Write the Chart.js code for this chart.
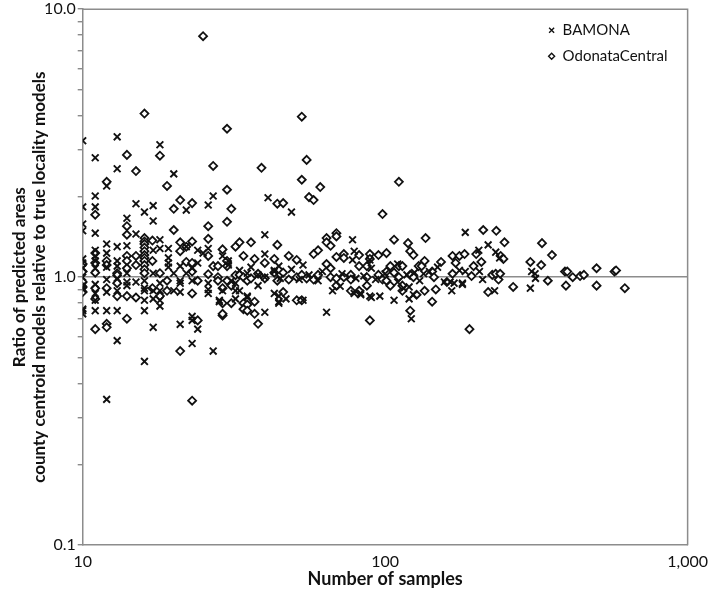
<!DOCTYPE html>
<html><head><meta charset="utf-8">
<script src="https://cdn.jsdelivr.net/npm/chart.js@4/dist/chart.umd.min.js"></script>
<style>html,body{margin:0;padding:0;background:#fff}</style>
</head><body>
<canvas id="c" width="709" height="598"></canvas>
<script>
// ---- data: [number of samples, [ratios...]] ----
const bamonaGroups = [
 [10,[3.23,1.83,1.58,1.49,1.17,1.13,1.08,1.0,0.93,0.91,0.9,0.76,0.75,0.73]],
 [11,[2.79,2.01,1.83,1.46,1.26,1.20,1.15,1.08,0.94,0.87,0.82,0.75]],
 [12,[2.19,1.33,1.23,1.09,0.98,0.88,0.75,0.35]],
 [13,[3.34,2.54,1.30,1.15,1.10,0.99,0.89,0.75,0.58]],
 [14,[1.66,1.31,1.035,0.96,0.93]],
 [15,[1.88,1.45,0.96]],
 [16,[1.75,0.97,0.91,0.89,0.82,0.75,0.485]],
 [17.1,[1.85,1.62,1.26,1.035,0.89,0.83,0.65]],
 [18,[3.12,1.38,1.28,0.95,0.89,0.82,0.78]],
 [19.2,[1.28,1.18,1.13,1.09]],
 [20,[2.43,1.035,0.89]],
 [21,[1.10,0.97,0.95,0.88,0.667]],
 [22,[1.78,1.30,1.035]],
 [23,[1.08,0.97,0.714,0.69,0.566]],
 [24,[1.26,1.13,0.64]],
 [25,[1.23]],
 [26,[1.86,1.28,0.95,0.90,0.87]],
 [27,[2.01,0.53]],
 [28.3,[0.82,0.81]],
 [29,[1.20,0.89]],
 [30.3,[1.15,1.11]],
 [31,[0.97]],
 [32,[0.89,0.83,0.95]],
 [33,[1.06,0.89]],
 [35,[0.84,0.85,1.035]],
 [36,[1.09]],
 [38,[0.93,1.02]],
 [40,[1.44,1.22,1.0,0.74]],
 [41,[1.98]],
 [43,[1.05,1.06,0.87]],
 [44.5,[1.10,0.85,0.81,0.80]],
 [45,[0.99]],
 [47,[0.83]],
 [49,[1.75,1.07]],
 [52,[0.98]],
 [53.5,[0.82,1.11]],
 [56,[1.02]],
 [60,[0.97]],
 [62,[1.05]],
 [64,[0.74]],
 [67,[0.89]],
 [71,[0.925]],
 [72,[1.03]],
 [78,[1.38,1.16]],
 [79,[1.25,0.87]],
 [80,[0.99]],
 [83,[0.87,0.86]],
 [85,[1.01]],
 [89,[1.16,0.85]],
 [90,[0.84,1.08]],
 [93,[0.98]],
 [96,[0.85]],
 [100,[1.03]],
 [107,[0.82]],
 [110,[0.96,1.12]],
 [115,[0.91]],
 [118,[1.02]],
 [120,[0.92,0.83]],
 [122,[0.70]],
 [124,[0.86]],
 [125,[1.04]],
 [130,[0.97]],
 [134,[1.03]],
 [140,[1.05]],[149,[1.09]],[157,[0.96]],[164,[0.96]],[166,[0.89]],[169,[0.95]],
 [176,[1.06]],[180,[0.95,0.94]],[184,[1.47,1.05]],[204,[1.26]],[205,[1.05]],
 [210,[0.98]],[219,[1.32]],[230,[0.89]],[232,[1.24]],[239,[1.18]],
 [302,[0.91]],[305,[1.05]],[313,[1.03]],[314,[0.99]]
];
const odonataGroups = [
 [10,[1.12,1.05,0.96,0.92,0.88]],
 [11,[1.71,1.23,1.13,1.04,0.91,0.83,0.64]],
 [12,[2.27,1.15,1.11,0.91,0.67,0.65]],
 [13,[1.035,1.017,0.95,0.85]],
 [14,[2.86,1.55,1.44,1.20,1.15,1.08,0.85,0.70]],
 [15,[2.49,1.20,1.11,0.84]],
 [16,[4.08,1.40,1.36,1.33,1.29,1.25,1.21,1.18,1.15,1.11,1.07,1.035]],
 [17,[1.37,1.15,0.91]],
 [18,[2.84,1.035,0.85]],
 [19,[2.19,0.97,0.89]],
 [20,[1.80,1.50]],
 [21,[1.94,1.35,1.25,0.53]],
 [22,[1.30,1.14]],
 [23,[1.89,1.36,1.13,1.05,0.87,0.346]],
 [24,[0.97,0.69]],
 [25,[7.93]],
 [26,[1.55,1.39,1.20,1.026]],
 [27,[2.60,1.10]],
 [28,[1.10,1.0,0.97]],
 [29,[1.27,0.91,0.80,0.72,0.73]],
 [30,[3.58,2.12,1.61,1.10,1.15,0.97]],
 [31,[1.80,0.93,0.80]],
 [32,[1.30,1.017]],
 [33,[1.35,1.02]],
 [34,[1.20,1.0,0.80,0.76]],
 [35,[0.79,0.75,0.97]],
 [36,[1.35,0.99]],
 [37,[1.17,0.81,0.73]],
 [38,[0.67,1.03]],
 [39,[2.56]],
 [40,[1.13,0.99]],
 [43,[1.17,1.04]],
 [44,[1.88,1.32,0.97]],
 [46,[1.89,1.04,0.88]],
 [48,[1.20,0.98]],
 [51,[1.16,0.82,1.0]],
 [53,[3.97,2.31,0.82,1.02]],
 [55,[2.74,0.99]],
 [56,[1.99]],
 [58,[1.94,1.22,0.98]],
 [60,[1.26,1.02]],
 [61,[2.17]],
 [64,[1.40,1.35,1.12]],
 [66,[1.31,1.08,1.0]],
 [69,[1.46,1.42,1.19,0.93,0.99]],
 [73,[1.22,1.18,1.0]],
 [77,[0.89,1.02,0.98]],
 [82,[1.21,1.10,0.89]],
 [87,[1.10,1.0,0.93]],
 [89,[1.22,1.17,0.69]],
 [95,[1.21,1.02]],
 [98,[1.72,0.98]],
 [101,[1.23,0.97,1.05]],
 [104,[1.10,0.93]],
 [107,[1.38,1.04]],
 [111,[2.27,1.10,1.0]],
 [114,[1.10,0.89,0.93]],
 [119,[1.34]],
 [121,[1.25,1.02,0.75]],
 [124,[1.21,1.0]],
 [127,[0.86]],[129,[1.10]],[132,[1.10]],[135,[1.15,0.89]],[136,[1.40]],
 [143,[1.05,0.81]],[145,[1.0]],[147,[0.90]],[153,[1.14]],[160,[0.96]],
 [167,[1.20,1.03]],[171,[1.13]],[176,[1.20]],[183,[1.22]],[190,[0.64]],
 [193,[1.01]],[196,[1.10]],[200,[1.22]],[208,[1.14]],[211,[1.50]],[219,[0.88]],
 [226,[1.02]],[232,[1.03]],[233,[1.49]],[237,[0.98]],[240,[1.03]],[241,[1.20]],
 [246,[1.17]],[248,[1.35]],[265,[0.92]],[302,[1.14]],[328,[1.11]],[330,[1.34]],
 [345,[0.97]],[356,[1.21]],[393,[1.05]],[396,[0.93]],[400,[1.05]],[417,[1.0]],
 [441,[1.01]],[454,[1.02]],[500,[1.08,0.93]],[573,[1.05]],[580,[1.06]],[620,[0.91]]
];
const seriesNames = ['BAMONA','OdonataCentral'];
const xTickValues = [10,100,1000];
const xTickLabels = ['10','100','1,000'];
const yMajorValues = [0.1,1,10];
const yMajorLabels = ['0.1','1.0','10.0'];
const xTitle = 'Number of samples';
const yTitle = ['Ratio of predicted areas','county centroid models relative to true locality models'];

const flatten = g => g.flatMap(([n, rs]) => rs.map(r => ({x:n, y:r})));

const yTickValues = [];
for (let d = 0.1; d < 10; d *= 10) for (let k = 1; k <= 9; k++) yTickValues.push(+(k*d).toFixed(2));
yTickValues.push(10);

const FONT = 'Lato, "Open Sans", sans-serif';
const GRAY = '#8c8c8c';

const frameLegend = {
  id:'frameLegend',
  afterDraw(chart){
    const {ctx, chartArea:a} = chart;
    ctx.save();
    ctx.strokeStyle = GRAY; ctx.lineWidth = 1.5;
    ctx.beginPath(); ctx.moveTo(a.left, a.top); ctx.lineTo(a.right, a.top); ctx.lineTo(a.right, a.bottom); ctx.stroke();
    // legend
    const mx = a.right - 136, tx = a.right - 125;
    const y1 = a.top + 21, y2 = a.top + 47;
    ctx.strokeStyle = '#111'; ctx.lineWidth = 1.4;
    ctx.beginPath(); ctx.moveTo(mx-2.5,y1-2.5); ctx.lineTo(mx+2.5,y1+2.5); ctx.moveTo(mx+2.5,y1-2.5); ctx.lineTo(mx-2.5,y1+2.5); ctx.stroke();
    ctx.beginPath(); ctx.moveTo(mx,y2-3); ctx.lineTo(mx+3,y2); ctx.lineTo(mx,y2+3); ctx.lineTo(mx-3,y2); ctx.closePath();
    ctx.fillStyle='#fff'; ctx.fill(); ctx.stroke();
    ctx.fillStyle = '#111'; ctx.font = '15px ' + FONT; ctx.textBaseline = 'middle'; ctx.textAlign = 'left';
    ctx.fillText(seriesNames[0], tx, y1);
    ctx.fillText(seriesNames[1], tx, y2);
    ctx.restore();
  }
};

new Chart(document.getElementById('c'), {
  type:'scatter',
  data:{ datasets:[
    { label:seriesNames[0], data:flatten(bamonaGroups), pointStyle:'crossRot', radius:4.8, borderColor:'#111', borderWidth:1.9, backgroundColor:'#111' },
    { label:seriesNames[1], data:flatten(odonataGroups), pointStyle:'rectRot', radius:4, borderColor:'#111', borderWidth:1.8, backgroundColor:'#fff' }
  ]},
  options:{
    responsive:false, animation:false,
    layout:{ padding:{ left:10, right:15, top:0, bottom:8 } },
    plugins:{ legend:{display:false}, tooltip:{enabled:false} },
    scales:{
      x:{ type:'logarithmic', min:10, max:1000,
        afterBuildTicks: s => { s.ticks = xTickValues.map(v => ({value:v})); },
        ticks:{ autoSkip:false, maxRotation:0, color:'#111', font:{family:FONT, size:16}, padding:1,
          callback:(v) => { const i = xTickValues.indexOf(v); return i >= 0 ? xTickLabels[i] : ''; } },
        grid:{ display:true, drawOnChartArea:false, color:'transparent', tickLength:6 },
        border:{ display:true, color:GRAY, width:1.5 },
        title:{ display:true, text:xTitle, color:'#111', font:{family:FONT, size:18, weight:'bold'}, padding:{top:-4, bottom:0} }
      },
      y:{ type:'logarithmic', min:0.1, max:10,
        afterBuildTicks: s => { s.ticks = yTickValues.map(v => ({value:v})); },
        ticks:{ autoSkip:false, color:'#111', font:{family:FONT, size:16, lineHeight:0.9}, padding:2,
          callback:(v) => { const i = yMajorValues.findIndex(m => Math.abs(m - v) < 1e-9); return i >= 0 ? yMajorLabels[i] : ''; } },
        grid:{ display:true, tickLength:5, lineWidth:1.5,
          color: c => (c.tick && Math.abs(c.tick.value - 1) < 1e-9) ? GRAY : 'transparent',
          tickColor: '#777', tickWidth:1.2 },
        border:{ display:true, color:GRAY, width:1.5 },
        title:{ display:true, text:yTitle, color:'#111', font:{family:FONT, size:17, weight:'bold', lineHeight:1.15}, padding:{top:0, bottom:-7} }
      }
    }
  },
  plugins:[frameLegend]
});
</script>
</body></html>
